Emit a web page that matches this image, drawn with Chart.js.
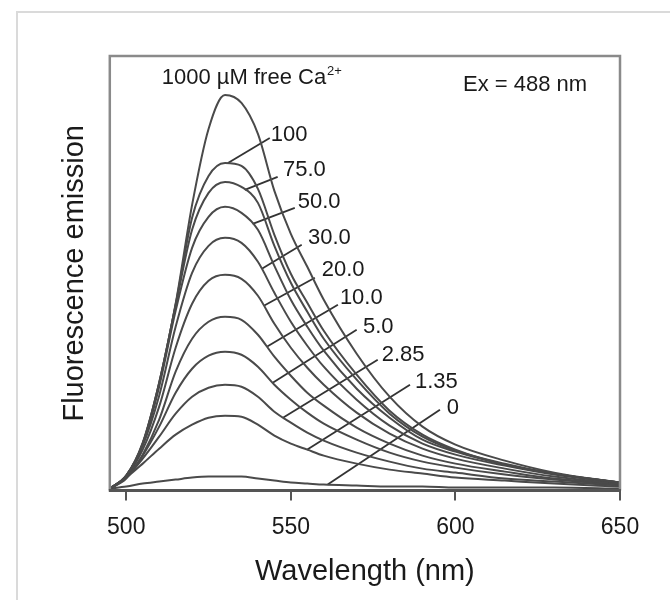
<!DOCTYPE html>
<html>
<head>
<meta charset="utf-8">
<script src="https://cdn.jsdelivr.net/npm/chart.js@4/dist/chart.umd.min.js"></script>
<style>
  body { margin: 0; background: #fff; }
  #frame { position: absolute; left: 16px; top: 11px; width: 670px; height: 620px; border: 2px solid #dadada; }
  #wrap { position: relative; width: 670px; height: 600px; overflow: hidden; }
  canvas { position: absolute; left: 0; top: 0; }
</style>
</head>
<body>
<div id="wrap">
  <div id="frame"></div>
  <canvas id="chart" width="670" height="600"></canvas>
</div>
<script>
// emission, arbitrary units
const wavelengths = [495, 500, 505, 510, 515, 520, 525, 530, 535, 540, 545, 550, 555, 560, 570, 580, 590, 600, 615, 630, 650];
const em1000 = [0, 12, 45, 106, 185, 284, 360, 394, 386, 355, 298, 255, 222, 189, 135, 92, 62, 44, 28, 16, 6];
const em100  = [0, 13, 46, 106, 184, 271, 313, 326, 323, 300, 254, 215, 186, 158, 114, 78, 54, 39, 24, 15, 6];
const em75   = [0, 13, 45, 105, 183, 259, 296, 307, 302, 286, 243, 206, 177, 150, 109, 75, 52, 38, 25, 15, 6];
const em50   = [0, 13, 44, 102, 178, 241, 272, 282, 276, 259, 223, 189, 162, 138, 100, 71, 49, 37, 24, 15, 6];
const em30   = [0, 13, 43, 93, 162, 216, 243, 251, 246, 227, 196, 167, 143, 122, 89, 63, 45, 34, 23, 14, 6];
const em20   = [0, 12, 39, 82, 141, 185, 208, 214, 210, 193, 165, 141, 121, 104, 76, 55, 40, 30, 20, 12, 5];
const em10   = [0, 10, 34, 69, 117, 150, 167, 172, 169, 154, 132, 113, 96, 83, 61, 45, 33, 25, 17, 10, 5];
const em5    = [0, 11, 33, 62, 96, 120, 133, 137, 134, 122, 104, 89, 76, 65, 49, 36, 27, 21, 14, 9, 4];
const em285  = [0, 11, 30, 52, 75, 92, 101, 104, 102, 92, 77, 66, 56, 48, 36, 27, 20, 16, 10, 7, 3];
const em135  = [0, 11, 25, 40, 54, 64, 71, 73, 72, 64, 53, 45, 39, 33, 25, 19, 15, 11, 8, 5, 2];
const em0    = [0, 2, 5, 7, 9, 11, 12, 12, 12, 10, 8, 6, 5, 4, 3, 2, 2, 1, 1, 1, 0];

const series = [em1000, em100, em75, em50, em30, em20, em10, em5, em285, em135, em0];
const concLabels = ["1000", "100", "75.0", "50.0", "30.0", "20.0", "10.0", "5.0", "2.85", "1.35", "0"];

// label text positions (wavelength, emission) and leader lines, index 1..10
const labelWl  = [510.8, 543.9, 547.6, 552.1, 555.2, 559.4, 564.9, 571.9, 577.6, 587.7, 597.4];
const labelVal = [411, 354, 319, 287, 251, 219, 191, 162, 134, 107, 81];
const leadFromWl  = [null, 543.6, 546.0, 551.2, 553.3, 557.3, 564.3, 570.0, 576.4, 586.2, 595.3];
const leadFromVal = [null, 351, 312, 281, 244, 211, 184, 159, 129, 104, 79];
const leadToWl  = [null, 530.9, 536.0, 538.4, 541.2, 541.8, 542.7, 544.5, 547.6, 554.9, 561.2];
const leadToVal = [null, 326, 299, 265, 220, 183, 142, 106, 71, 39, 4];

const xTicks = [500, 550, 600, 650];
const headText = "1000 \u00b5M free Ca";
const headSup = "2+";
const exText = "Ex = 488 nm";
const exWl = 602.3, exVal = 404;

const font = '"Liberation Sans", Arial, sans-serif';
const lineColor = '#4a4a4a';
const textColor = '#1a1a1a';

const datasets = series.map((vals, i) => ({
    label: concLabels[i],
    data: wavelengths.map((w, j) => ({ x: w, y: vals[j] })),
    borderColor: lineColor,
    borderWidth: 2,
    pointRadius: 0,
    cubicInterpolationMode: 'monotone',
    fill: false
}));

for (let i = 1; i < concLabels.length; i++) {
    datasets.push({
        label: 'lead' + i,
        data: [{ x: leadFromWl[i], y: leadFromVal[i] }, { x: leadToWl[i], y: leadToVal[i] }],
        borderColor: '#333',
        borderWidth: 1.8,
        pointRadius: 0,
        tension: 0,
        fill: false
    });
}

const framePlugin = {
    id: 'frame',
    afterDraw(chart) {
        const { ctx, chartArea: a } = chart;
        ctx.save();
        ctx.strokeStyle = '#8a8a8a';
        ctx.lineWidth = 2.5;
        ctx.beginPath();
        ctx.moveTo(a.left, a.bottom);
        ctx.lineTo(a.left, a.top);
        ctx.lineTo(a.right, a.top);
        ctx.lineTo(a.right, a.bottom);
        ctx.stroke();
        ctx.strokeStyle = '#555';
        ctx.lineWidth = 3;
        ctx.beginPath();
        ctx.moveTo(a.left - 1, a.bottom);
        ctx.lineTo(a.right + 1, a.bottom);
        ctx.stroke();
        ctx.restore();
    }
};

const labelPlugin = {
    id: 'labels',
    afterDatasetsDraw(chart) {
        const { ctx, scales: { x, y } } = chart;
        ctx.save();
        ctx.fillStyle = textColor;
        ctx.textBaseline = 'middle';
        ctx.textAlign = 'left';
        ctx.font = '22px ' + font;
        for (let i = 1; i < concLabels.length; i++) {
            ctx.fillText(concLabels[i], x.getPixelForValue(labelWl[i]), y.getPixelForValue(labelVal[i]));
        }
        const hx = x.getPixelForValue(labelWl[0]);
        const hy = y.getPixelForValue(labelVal[0]);
        ctx.fillText(headText, hx, hy);
        const w = ctx.measureText(headText).width;
        ctx.font = '13px ' + font;
        ctx.fillText(headSup, hx + w + 1, hy - 7);
        ctx.font = '22px ' + font;
        ctx.fillText(exText, x.getPixelForValue(exWl), y.getPixelForValue(exVal));
        ctx.restore();
    }
};

new Chart(document.getElementById('chart'), {
    type: 'line',
    data: { datasets },
    options: {
        responsive: false,
        animation: false,
        devicePixelRatio: 1,
        layout: { padding: { left: 58, right: 50, top: 56, bottom: 11 } },
        plugins: { legend: { display: false }, tooltip: { enabled: false } },
        scales: {
            x: {
                type: 'linear',
                min: 495,
                max: 650,
                afterBuildTicks: s => { s.ticks = xTicks.map(v => ({ value: v })); },
                grid: { display: true, drawOnChartArea: false, drawTicks: true, tickLength: 10, color: '#555', lineWidth: 2 },
                border: { display: false },
                ticks: { color: textColor, padding: 13, font: { family: font, size: 23 } },
                title: { display: true, text: 'Wavelength (nm)', color: textColor, padding: { top: 0, bottom: 0 }, font: { family: font, size: 29 } }
            },
            y: {
                type: 'linear',
                min: -2,
                max: 433,
                grid: { display: false, drawTicks: false },
                border: { display: false },
                ticks: { display: false },
                title: { display: true, text: 'Fluorescence emission', color: textColor, padding: { top: 0, bottom: 17 }, font: { family: font, size: 29 } }
            }
        }
    },
    plugins: [framePlugin, labelPlugin]
});
</script>
</body>
</html>
